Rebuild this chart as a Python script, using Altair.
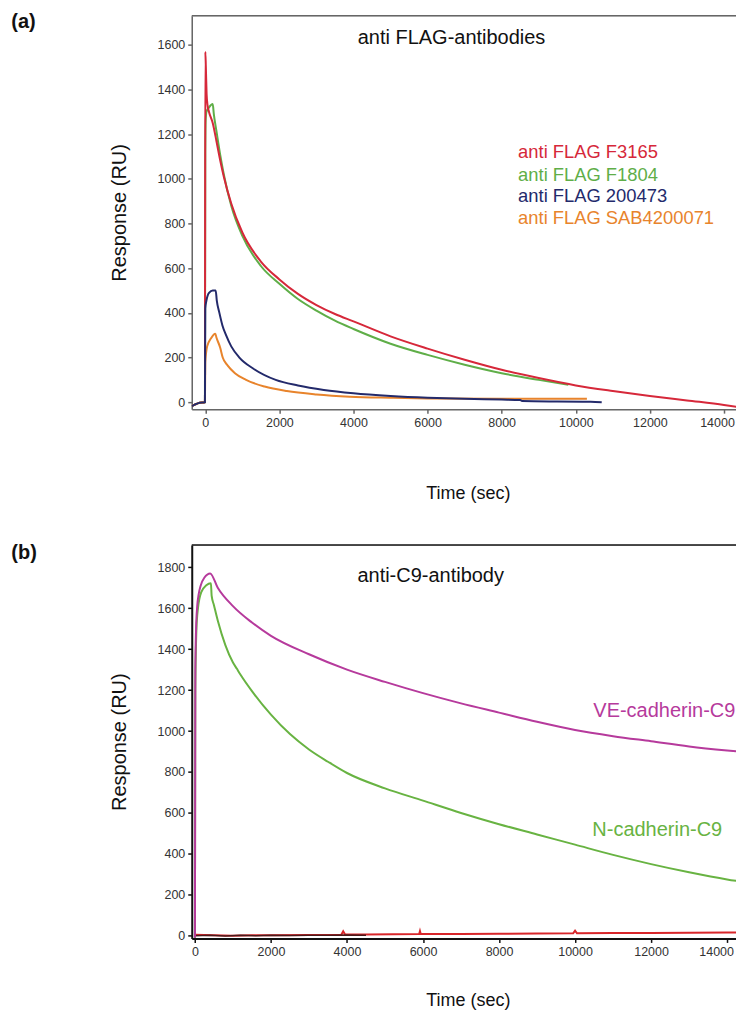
import altair as alt
import pandas as pd

# ---------------- panel (a): anti FLAG antibodies ----------------
t_f3165 = [-366, -250, -150, -10, 0, 15, 35, 60, 100, 200, 300, 400, 500, 700, 1000, 1500,
           2000, 2500, 3000, 3500, 4000, 5000, 6000, 7000, 8000, 9000, 10000, 11000, 12000,
           13000, 14000, 14600]
v_f3165 = [-18, -8, -2, 0, 1570, 1500, 1380, 1330, 1300, 1250, 1170, 1085, 1010, 890, 760, 630,
           550, 485, 435, 395, 362, 295, 240, 190, 145, 108, 75, 50, 28, 8, -12, -28]

t_f1804 = [-366, -250, -150, -10, 0, 10, 30, 100, 200, 230, 300, 400, 500, 700, 1000, 1500,
           2000, 2500, 3000, 3500, 4000, 5000, 6000, 7000, 8000, 9000, 9800]
v_f1804 = [-18, -8, -2, 0, 1110, 1260, 1300, 1320, 1335, 1290, 1215, 1110, 1020, 880, 745, 610,
           530, 462, 410, 365, 328, 262, 212, 168, 130, 100, 78]

t_200473 = [-366, -250, -150, -10, 0, 30, 100, 200, 280, 310, 380, 460, 560, 700, 920, 1300,
            1900, 2500, 3200, 4000, 5000, 6000, 7000, 8000, 8500, 8550, 9500, 10400, 10700]
v_200473 = [-18, -8, -2, 0, 420, 455, 490, 500, 500, 455, 400, 345, 300, 250, 200, 150,
            100, 75, 55, 40, 28, 20, 15, 12, 10, 5, 3, 2, 0]

t_sab = [-366, -250, -150, -10, 0, 50, 150, 270, 300, 400, 470, 600, 800, 1100, 1600, 2200,
         3000, 3900, 5000, 6000, 8000, 10300]
v_sab = [-18, -8, -2, 0, 180, 250, 285, 307, 290, 245, 200, 165, 130, 100, 70, 50,
         35, 25, 20, 17, 15, 15]

names_a = ["anti FLAG F3165", "anti FLAG F1804", "anti FLAG 200473", "anti FLAG SAB4200071"]
colors_a = ["#d6283a", "#5fae48", "#232a6b", "#e8842c"]
legend_t_a = [8443, 8443, 8443, 8443]
legend_v_a = [1092, 991, 895, 799]
title_a = "anti FLAG-antibodies"
title_a_pos = [6646, 1630]

# ---------------- panel (b): anti-C9 antibody ----------------
t_ve = [0, 10, 30, 60, 100, 150, 250, 400, 600, 1000, 1500, 2000, 3000, 4000, 5000, 6000,
        7000, 8000, 9000, 10000, 11000, 12000, 13000, 14000, 14450]
v_ve = [-10, 1300, 1500, 1610, 1670, 1710, 1750, 1770, 1700, 1610, 1530, 1465, 1375, 1300,
        1240, 1185, 1135, 1090, 1045, 1005, 975, 950, 925, 905, 897]

t_n = [0, 10, 40, 80, 170, 300, 420, 440, 500, 600, 800, 1000, 1100, 1200, 1500, 2000, 2500,
       3000, 3500, 4000, 5000, 6000, 7000, 8000, 9000, 10000, 11000, 12000, 13000, 14000, 14450]
v_n = [-10, 1200, 1500, 1600, 1680, 1712, 1722, 1660, 1615, 1540, 1420, 1335, 1305, 1275, 1195,
       1080, 985, 910, 850, 795, 720, 660, 600, 545, 495, 445, 395, 350, 310, 275, 262]

t_ctrl = [0, 500, 1000, 1500, 2000, 3000, 3850, 3900, 3950, 4500, 5900, 5920, 5940, 7000, 8000,
          9000, 9950, 10000, 10050, 11000, 12000, 13000, 14000, 14450]
v_ctrl = [5, 3, 0, 2, 3, 4, 5, 22, 6, 6, 8, 22, 8, 9, 10, 11, 12, 25, 12, 13, 14, 15, 16, 16]

t_noise = [0, 400, 800, 1200, 1600, 2000, 2500, 3000, 3500, 4000, 4500]
v_noise = [0, 2, -1, 3, 0, 2, 1, 3, 2, 4, 3]

names_b = ["VE-cadherin-C9", "N-cadherin-C9"]
colors_b = ["#b63a9c", "#68b342"]
label_t_b = [10480, 10455]
label_v_b = [1100, 516]
title_b = "anti-C9-antibody"
title_b_pos = [6202, 1758]

# ---------------- styling ----------------
W, H = 553, 394
SANS = '"Liberation Sans", Arial, sans-serif'


def sdf(t, v):
    return pd.DataFrame({"t": t, "v": v, "i": list(range(len(t)))})


def make_panel(series, xscale, yscale, xaxis, yaxis, frame_color, tag, tag_y, texts):
    layers = []
    for t, v, col, sw, interp in series:
        layers.append(
            alt.Chart(sdf(t, v)).mark_line(color=col, strokeWidth=sw, clip=True,
                                           interpolate=interp).encode(
                x=alt.X("t:Q", scale=xscale, axis=xaxis),
                y=alt.Y("v:Q", scale=yscale, axis=yaxis),
                order="i:Q",
            )
        )
    for df, props in texts:
        layers.append(
            alt.Chart(df).mark_text(**props).encode(
                x=alt.X("t:Q", scale=xscale, axis=xaxis),
                y=alt.Y("v:Q", scale=yscale, axis=yaxis),
                text="label:N",
                color=alt.Color("c:N", scale=None),
            )
        )
    layers.append(
        alt.Chart(pd.DataFrame({"k": [0]})).mark_rule(color=frame_color, strokeWidth=1.5).encode(
            x=alt.value(0), x2=alt.value(W), y=alt.value(0)
        )
    )
    layers.append(
        alt.Chart(pd.DataFrame({"k": [0]})).mark_text(
            text=tag, font=SANS, fontSize=20, fontWeight="bold", align="left",
            baseline="middle", color="#111"
        ).encode(x=alt.value(-180.7), y=alt.value(tag_y))
    )
    return alt.layer(*layers).properties(width=W, height=H)


def axis(values, title, color, dwidth, tpad, is_x, last_shift=0):
    extra = {}
    if is_x:
        extra["labelOffset"] = {"condition": {"test": "datum.value == 14000", "value": last_shift},
                                "value": 0}
    return alt.Axis(values=values, format="d", title=title,
                    labelFont=SANS, labelFontSize=12.5, labelColor="#333", tickColor=color,
                    domainColor=color, domainWidth=dwidth, tickWidth=1.5, tickSize=4,
                    titleFont=SANS, titleFontSize=18 if is_x else 20,
                    titleFontWeight="normal", titleColor="#111", titlePadding=tpad,
                    grid=False, labelFlush=False, labelPadding=3, **extra)


# panel a
xs_a = alt.Scale(domain=[-366, 14540], nice=False, zero=False)
ys_a = alt.Scale(domain=[-31, 1731], nice=False, zero=False)
xa_a = axis(list(range(0, 14001, 2000)), "Time (sec)", "#666", 1.5, 56, True, -7)
ya_a = axis(list(range(0, 1601, 200)), "Response (RU)", "#666", 1.5, 28, False)

series_a = [
    (t_f1804, v_f1804, colors_a[1], 2, "monotone"),
    (t_f3165, v_f3165, colors_a[0], 2, "monotone"),
    (t_sab, v_sab, colors_a[3], 2, "monotone"),
    (t_200473, v_200473, colors_a[2], 2, "monotone"),
]
legend_df_a = pd.DataFrame({"t": legend_t_a, "v": legend_v_a, "label": names_a, "c": colors_a})
title_df_a = pd.DataFrame({"t": [title_a_pos[0]], "v": [title_a_pos[1]], "label": [title_a], "c": ["#111"]})
texts_a = [
    (legend_df_a, dict(font=SANS, fontSize=18.4, align="left", baseline="alphabetic")),
    (title_df_a, dict(font=SANS, fontSize=20, align="center", baseline="middle")),
]
panel_a = make_panel(series_a, xs_a, ys_a, xa_a, ya_a, "#666", "(a)", 6, texts_a)

# panel b
xs_b = alt.Scale(domain=[-84, 14444], nice=False, zero=False)
ys_b = alt.Scale(domain=[-13, 1909], nice=False, zero=False)
xa_b = axis(list(range(0, 14001, 2000)), "Time (sec)", "#111", 2, 34, True, -11)
ya_b = axis(list(range(0, 1801, 200)), "Response (RU)", "#111", 2, 28, False)

series_b = [
    (t_ctrl, v_ctrl, "#d8262a", 2, "linear"),
    (t_noise, v_noise, "#4a1a1a", 1.5, "linear"),
    (t_n, v_n, colors_b[1], 2, "monotone"),
    (t_ve, v_ve, colors_b[0], 2, "monotone"),
]
label_df_b = pd.DataFrame({"t": label_t_b, "v": label_v_b, "label": names_b, "c": colors_b})
title_df_b = pd.DataFrame({"t": [title_b_pos[0]], "v": [title_b_pos[1]], "label": [title_b], "c": ["#111"]})
texts_b = [
    (label_df_b, dict(font=SANS, fontSize=20, align="left", baseline="middle")),
    (title_df_b, dict(font=SANS, fontSize=20, align="center", baseline="middle")),
]
panel_b = make_panel(series_b, xs_b, ys_b, xa_b, ya_b, "#111", "(b)", 8, texts_b)

chart = alt.vconcat(panel_a, panel_b, spacing=39).properties(
    padding={"left": 2, "top": 2, "right": -10, "bottom": 0}
).configure_view(stroke=None).configure(background="white")

chart.save("out.html", embed_options={"renderer": "svg", "actions": False})
